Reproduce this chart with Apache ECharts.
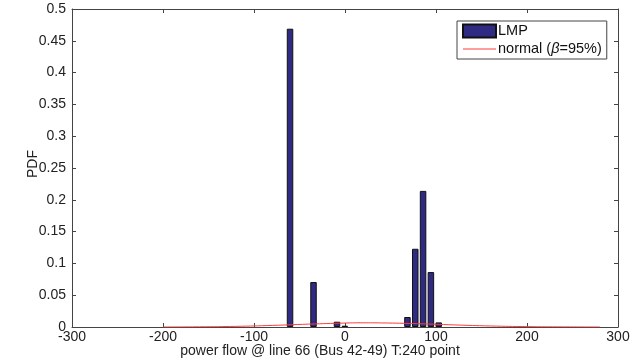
<!DOCTYPE html>
<html><head><meta charset="utf-8">
<script src="https://cdn.jsdelivr.net/npm/echarts@6/dist/echarts.min.js"></script>
<style>html,body{margin:0;padding:0;background:#fff}#c{width:635px;height:363px}</style>
</head><body><div id="c"></div>
<script>
// Histogram bin centres (power flow) and PDF values
const binCenters = [-60.4, -34.6, -8.8, -0.2, 68.6, 77.2, 85.8, 94.4, 103.0];
const lmpPdf     = [0.469, 0.0707, 0.0083, 0.002, 0.0157, 0.123, 0.214, 0.0864, 0.0072];
// Fitted normal curve
const normalX = [-200, -160, -120, -80, -40, 0, 20, 40, 80, 120, 160, 200, 240, 280];
const normalY = [0, 0.0003, 0.001, 0.0025, 0.0045, 0.0062, 0.0066, 0.0064, 0.0052, 0.0033, 0.0016, 0.0006, 0.0002, 0];
const xTicks = [-300, -200, -100, 0, 100, 200, 300];
const yTicks = [0, 0.05, 0.1, 0.15, 0.2, 0.25, 0.3, 0.35, 0.4, 0.45, 0.5];
const xTitle = 'power flow @ line 66 (Bus 42-49) T:240 point';
const yTitle = 'PDF';

const font = 'Liberation Sans, Arial, Helvetica, sans-serif';
const axisCol = '#444';
const txtCol = '#222';
const chart = echarts.init(document.getElementById('c'));
const baseX = {
  type: 'value', min: -300, max: 300, interval: 100,
  axisLine: {show: true, onZero: false, lineStyle: {color: axisCol, width: 1}},
  axisTick: {show: true, inside: true, length: 4, lineStyle: {color: axisCol}},
  splitLine: {show: false}
};
const baseY = {
  type: 'value', min: 0, max: 0.5, interval: 0.05,
  axisLine: {show: true, onZero: false, lineStyle: {color: axisCol, width: 1}},
  axisTick: {show: true, inside: true, length: 4, lineStyle: {color: axisCol}},
  splitLine: {show: false}
};
chart.setOption({
  animation: false,
  backgroundColor: '#fff',
  grid: {left: 72, right: 17, top: 9, bottom: 36, containLabel: false},
  xAxis: [
    Object.assign({}, baseX, {
      position: 'bottom',
      axisLabel: {color: txtCol, fontFamily: font, fontSize: 14, margin: 3,
        formatter: v => xTicks.includes(v) ? String(v) : ''}
    }),
    Object.assign({}, baseX, {position: 'top', axisLabel: {show: false}})
  ],
  yAxis: [
    Object.assign({}, baseY, {
      position: 'left',
      axisLabel: {color: txtCol, fontFamily: font, fontSize: 14, margin: 6,
        formatter: v => { const t = yTicks.find(k => Math.abs(k - v) < 1e-9); return t === undefined ? '' : String(t); }}
    }),
    Object.assign({}, baseY, {position: 'right', axisLabel: {show: false}})
  ],
  graphic: [
    {type: 'text', x: 320, y: 351, z: 10,
      style: {text: xTitle, fill: txtCol, font: '14px ' + font, align: 'center', verticalAlign: 'middle'}},
    {type: 'text', x: 33, y: 164, rotation: Math.PI / 2, z: 10,
      style: {text: yTitle, fill: txtCol, font: '14px ' + font, align: 'center', verticalAlign: 'middle'}}
  ],
  legend: {
    left: 457, top: 21,
    orient: 'vertical',
    backgroundColor: '#fff',
    borderColor: '#444', borderWidth: 1, borderRadius: 0,
    padding: [2, 5, 2, 5],
    itemGap: 2, itemWidth: 33, itemHeight: 13,
    textStyle: {fontFamily: font, fontSize: 14.5, color: '#111', lineHeight: 16, padding: [0, 0, 0, -3],
      rich: {b: {fontFamily: font, fontSize: 14.5, fontStyle: 'italic', color: '#111', lineHeight: 16}}},
    formatter: n => n === 'normal' ? 'normal ({b|β}=95%)' : n,
    data: [
      {name: 'LMP', icon: 'rect'},
      {name: 'normal', icon: 'path://M0,6 L33,6 L33,7 L0,7 Z'}
    ]
  },
  series: [
    {
      name: 'LMP', type: 'bar', xAxisIndex: 0, yAxisIndex: 0,
      barWidth: 6.5,
      itemStyle: {color: '#2f2a82', borderColor: '#111', borderWidth: 1},
      data: binCenters.map((x, i) => [x, lmpPdf[i]]),
      z: 2
    },
    {
      name: 'normal', type: 'line', xAxisIndex: 0, yAxisIndex: 0,
      smooth: true, symbol: 'none',
      lineStyle: {color: '#ff3b3b', width: 1},
      itemStyle: {color: '#ff3b3b'},
      data: normalX.map((x, i) => [x, normalY[i]]),
      z: 5
    }
  ]
});
</script></body></html>
